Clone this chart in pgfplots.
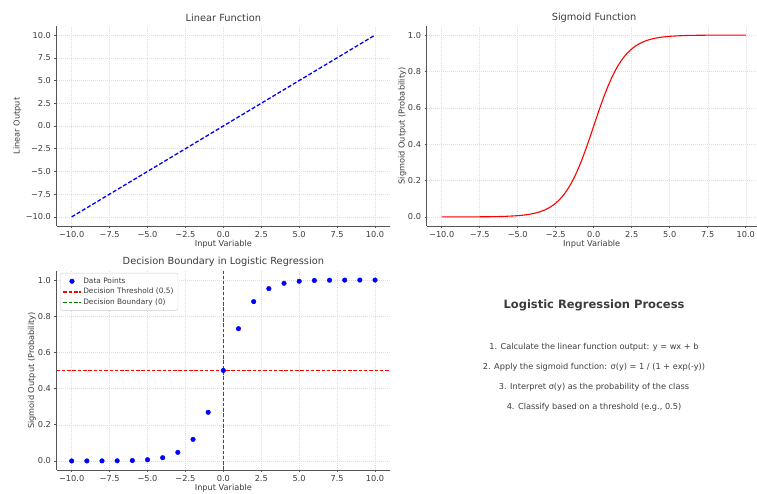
\documentclass[border=0pt]{standalone}
\usepackage{fontspec}
\setmainfont[Color=3C3C3C]{DejaVu Sans}
\usepackage{pgfplots}
\pgfplotsset{compat=1.18}
\definecolor{spine}{HTML}{555555}
\definecolor{mgreen}{RGB}{0,128,0}
\definecolor{mred}{RGB}{255,0,0}
\definecolor{mblue}{RGB}{0,0,255}
\pgfplotsset{
  base/.style={
    scale only axis,
    axis x line*=bottom, axis y line*=left,
    axis line style={draw=spine, line width=0.8pt},
    tick align=outside, major tick length=2pt,
    tick style={draw=spine, line width=0.6pt},
    grid=major, grid style={draw=black!13, line width=0.5pt, dash pattern=on 1pt off 1pt},
    ticklabel style={font=\fontsize{8.2}{10}\selectfont},
    label style={font=\fontsize{8.2}{10}\selectfont},
    title style={font=\fontsize{9.8}{12}\selectfont, anchor=center},
    xtick={-10,-7.5,-5,-2.5,0,2.5,5,7.5,10},
    xticklabels={−10.0,−7.5,−5.0,−2.5,0.0,2.5,5.0,7.5,10.0},
    xlabel={Input Variable},
    xlabel style={at={(axis description cs:0.5,0)}, anchor=center, yshift=-18pt},
    xmin=-11, xmax=11,
    clip=false,
  }
}
\begin{document}
\begin{tikzpicture}
\path[use as bounding box] (0pt,0pt) rectangle (757pt,494pt);
% top-left
\begin{axis}[base, at={(56.5pt,268pt)}, anchor=south west, width=333.7pt, height=200pt,
  ymin=-11, ymax=11,
  ytick={-10,-7.5,-5,-2.5,0,2.5,5,7.5,10},
  yticklabels={−10.0,−7.5,−5.0,−2.5,0.0,2.5,5.0,7.5,10.0},
  ylabel={Linear Output},
  ylabel style={at={(axis description cs:-0.117,0.5)}, anchor=center},
  title={Linear Function},
  title style={at={(axis description cs:0.5,1)}, yshift=2pt}]
\addplot[color=mblue, line width=1.3pt, dash pattern=on 4pt off 2pt] coordinates {(-10,-10) (10,10)};
\end{axis}
% top-right
\begin{axis}[base, at={(426.5pt,268pt)}, anchor=south west, width=330.5pt, height=200pt,
  xmax=10.74,
  ymin=-0.05, ymax=1.05,
  ytick={0,0.2,0.4,0.6,0.8,1},
  yticklabels={0.0,0.2,0.4,0.6,0.8,1.0},
  ylabel={Sigmoid Output (Probability)},
  ylabel style={at={(axis description cs:-0.073,0.5)}, anchor=center},
  title={Sigmoid Function},
  title style={at={(axis description cs:0.5068,1)}, yshift=2pt}]
\addplot[color=mred, line width=1.1pt, smooth] coordinates {
(-10,0.0000454) (-9,0.000123) (-8,0.000335) (-7,0.000911) (-6,0.002473) (-5,0.006693)
(-4.75,0.008577) (-4.5,0.010987) (-4.25,0.014064) (-4,0.017986) (-3.75,0.022977)
(-3.5,0.029312) (-3.25,0.037327) (-3,0.047426) (-2.75,0.060087) (-2.5,0.075858)
(-2.25,0.095349) (-2,0.119203) (-1.75,0.148047) (-1.5,0.182426) (-1.25,0.222700)
(-1,0.268941) (-0.75,0.320821) (-0.5,0.377541) (-0.25,0.437823) (0,0.5)
(0.25,0.562177) (0.5,0.622459) (0.75,0.679179) (1,0.731059) (1.25,0.777300)
(1.5,0.817574) (1.75,0.851953) (2,0.880797) (2.25,0.904651) (2.5,0.924142)
(2.75,0.939913) (3,0.952574) (3.25,0.962673) (3.5,0.970688) (3.75,0.977023)
(4,0.982014) (4.25,0.985936) (4.5,0.989013) (4.75,0.991423) (5,0.993307)
(6,0.997527) (7,0.999089) (8,0.999665) (9,0.999877) (10,0.999955)};
\end{axis}
% bottom-left
\begin{axis}[base, at={(56.5pt,24pt)}, anchor=south west, width=333.7pt, height=199pt,
  ymin=-0.05, ymax=1.05,
  ytick={0,0.2,0.4,0.6,0.8,1},
  yticklabels={0.0,0.2,0.4,0.6,0.8,1.0},
  ylabel={Sigmoid Output (Probability)},
  ylabel style={at={(axis description cs:-0.074,0.5)}, anchor=center},
  title={Decision Boundary in Logistic Regression},
  title style={at={(axis description cs:0.5,1)}, yshift=2.7pt},
  legend style={at={(axis description cs:0.0105,0.99)}, anchor=north west,
    draw=black!20, rounded corners=2pt, fill=white,
    font=\fontsize{7.4}{9}\selectfont, row sep=-0.6pt, inner sep=2.5pt},
  legend cell align=left]
\addplot[only marks, mark=*, mark size=2.3pt, color=mblue] coordinates {
(-10,0.0000454) (-9,0.000123) (-8,0.000335) (-7,0.000911) (-6,0.002473) (-5,0.006693)
(-4,0.017986) (-3,0.047426) (-2,0.119203) (-1,0.268941) (0,0.5) (1,0.731059)
(2,0.880797) (3,0.952574) (4,0.982014) (5,0.993307) (6,0.997527) (7,0.999089)
(8,0.999665) (9,0.999877) (10,0.999955)};
\addlegendentry{Data Points}
\addplot[color=mred, line width=1.5pt, dash pattern=on 3.5pt off 1.8pt] coordinates {(-11,0.5) (11,0.5)};
\addlegendentry{Decision Threshold (0.5)}
\addplot[color=mgreen, line width=1.5pt, dash pattern=on 3.5pt off 1.8pt] coordinates {(0,-0.05) (0,1.05)};
\addlegendentry{Decision Boundary (0)}
\end{axis}
% text panel
\node[font=\bfseries\fontsize{11.5}{14}\selectfont] at (594pt,189pt) {Logistic Regression Process};
\node[font=\fontsize{8.2}{10}\selectfont] at (594pt,146.3pt) {1. Calculate the linear function output: y = wx + b};
\node[font=\fontsize{8.2}{10}\selectfont] at (594pt,126.3pt) {2. Apply the sigmoid function: σ(y) = 1 / (1 + exp(-y))};
\node[font=\fontsize{8.2}{10}\selectfont] at (594pt,106.3pt) {3. Interpret σ(y) as the probability of the class};
\node[font=\fontsize{8.2}{10}\selectfont] at (594pt,86.3pt) {4. Classify based on a threshold (e.g., 0.5)};
\end{tikzpicture}
\end{document}
